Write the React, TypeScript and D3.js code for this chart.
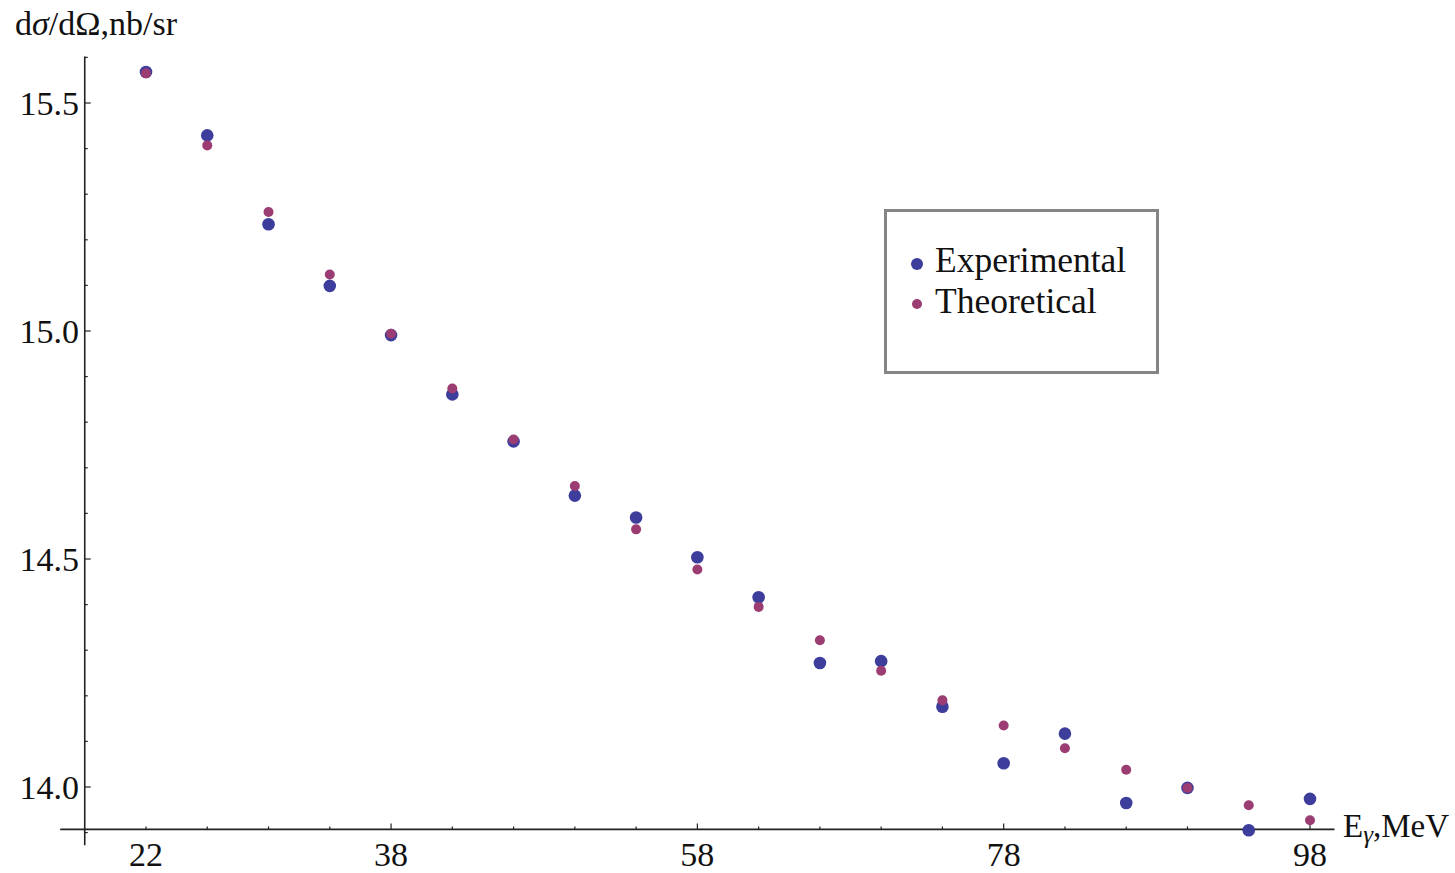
import React from 'react';
import * as d3 from 'd3';

// Photon energy, MeV
const energies = [22, 26, 30, 34, 38, 42, 46, 50, 54, 58, 62, 66, 70, 74, 78, 82, 86, 90, 94, 98];

// dσ/dΩ, nb/sr
const experimental = [
  15.568, 15.429, 15.234, 15.099, 14.991, 14.861, 14.758, 14.639, 14.591, 14.504,
  14.416, 14.272, 14.276, 14.176, 14.052, 14.117, 13.965, 13.998, 13.905, 13.974,
];
const theoretical = [
  15.565, 15.407, 15.261, 15.124, 14.994, 14.874, 14.762, 14.660, 14.565, 14.477,
  14.395, 14.322, 14.255, 14.190, 14.135, 14.085, 14.038, 13.998, 13.960, 13.927,
];

const xTickLabels = [22, 38, 58, 78, 98];
const yTickLabels = [14.0, 14.5, 15.0, 15.5];

const W = 1455;
const H = 873;
const FONT = '"Liberation Serif", "Times New Roman", serif';
const BLUE = '#3d3d9c';
const PURPLE = '#9b3d72';

const App = () => {
  const x = d3.scaleLinear().domain([22, 98]).range([146, 1310]);
  const y = d3.scaleLinear().domain([14, 15.5]).range([787, 103]);

  const xOrigin = 18;
  const yOrigin = 13.907;
  const ax = x(xOrigin);
  const ay = y(yOrigin);

  const xMinor = d3.range(22, 99, 4);
  const yMinor = d3.range(139, 157).map(v => v / 10);

  return (
    <svg width={W} height={H} style={{ position: 'absolute', left: 0, top: 0, background: '#fff' }}
      fontFamily={FONT}>
      {/* axes */}
      <line x1={x(16.4)} x2={x(99.6)} y1={ay} y2={ay} stroke="#222" strokeWidth={1.6} />
      <line x1={ax} x2={ax} y1={y(13.872)} y2={y(15.602)} stroke="#222" strokeWidth={1.6} />

      {xMinor.map(v => (
        <line key={'xt' + v} x1={x(v)} x2={x(v)} y1={ay}
          y2={ay - (xTickLabels.includes(v) && v !== 22 ? 6 : 3)} stroke="#222" strokeWidth={1.2} />
      ))}
      {yMinor.map(v => {
        const major = Math.abs(v * 2 - Math.round(v * 2)) < 1e-6;
        return (
          <line key={'yt' + v} x1={ax} x2={ax + (major ? 6 : 3)} y1={y(v)} y2={y(v)}
            stroke="#222" strokeWidth={1.2} />
        );
      })}

      {xTickLabels.map(v => (
        <text key={'xl' + v} x={x(v)} y={866} textAnchor="middle" fontSize={34} fill="#111">{v}</text>
      ))}
      {yTickLabels.map(v => (
        <text key={'yl' + v} x={79} y={y(v)} dy="0.34em" textAnchor="end" fontSize={34} fill="#111">
          {d3.format('.1f')(v)}
        </text>
      ))}

      {/* axis labels */}
      <text x={15} y={35} fontSize={34} fill="#111">
        d<tspan fontStyle="italic">σ</tspan>/dΩ,nb/sr
      </text>
      <text x={1343} y={837} fontSize={33} fill="#111">
        E<tspan fontStyle="italic" fontSize={25} dy={6}>γ</tspan><tspan dy={-6}>,MeV</tspan>
      </text>

      {/* points */}
      {energies.map((e, i) => (
        <circle key={'ex' + e} cx={x(e)} cy={y(experimental[i])} r={6.3} fill={BLUE} />
      ))}
      {energies.map((e, i) => (
        <circle key={'th' + e} cx={x(e)} cy={y(theoretical[i])} r={5} fill={PURPLE} />
      ))}

      {/* legend */}
      <rect x={885.5} y={210.5} width={272} height={162} fill="#fff" stroke="#858585" strokeWidth={3} />
      <circle cx={917} cy={264} r={6} fill={BLUE} />
      <text x={935} y={272} fontSize={35.5} fill="#111">Experimental</text>
      <circle cx={917} cy={304} r={5} fill={PURPLE} />
      <text x={935} y={313} fontSize={35.5} fill="#111">Theoretical</text>
    </svg>
  );
};

export default App;
